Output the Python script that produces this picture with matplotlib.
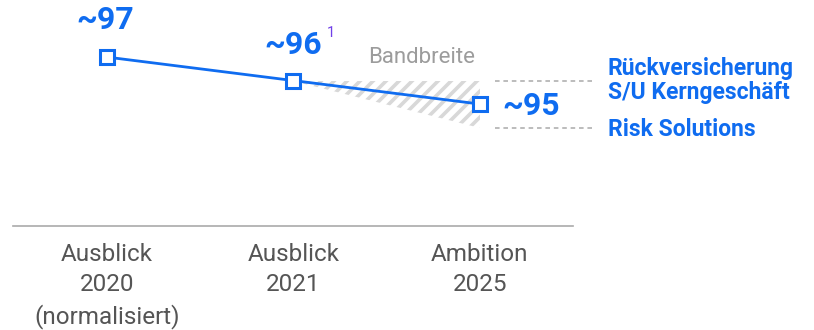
import matplotlib
matplotlib.use("Agg")
import matplotlib.pyplot as plt
from matplotlib.patches import Polygon
from matplotlib.lines import Line2D
from matplotlib.transforms import IdentityTransform
import numpy as np

plt.rcParams['font.family'] = ['Roboto', 'DejaVu Sans']

# ---- data ----
categories = ["Ausblick\n2020\n(normalisiert)", "Ausblick\n2021", "Ambition\n2025"]
values = [97, 96, 95]
value_labels = ["~97", "~96", "~95"]
band_high = 96
band_low = 94
band_label = "Bandbreite"
upper_label = "Rückversicherung\nS/U Kerngeschäft"
lower_label = "Risk Solutions"

BLUE = "#0F6CF0"
PURPLE = "#7040E8"
GRAY_TXT = "#555555"
BAND_TXT = "#9C9C9C"
HATCH = "#D8D8D8"

DPI = 100
fig = plt.figure(figsize=(8.14, 3.30), dpi=DPI)
ax = fig.add_axes([13 / 814, (330 - 226) / 330, 560 / 814, 226 / 330])
ax.set_xlim(-0.504, 2.499)
ax.set_ylim(89.81, 99.43)

x = np.arange(len(values))

# hatched band (triangle from 2021 value to range at 2025)
band_poly = Polygon([[x[1], values[1]], [x[2], band_high], [x[2], band_low]],
                    closed=True, facecolor="none", edgecolor="none", zorder=1)
ax.add_patch(band_poly)
fig.canvas.draw()
verts = ax.transData.transform(band_poly.get_xy())
xmin, ymin = verts.min(axis=0)
xmax, ymax = verts.max(axis=0)
spacing = 13.0
h = ymax - ymin
start = xmin - h - spacing
k = 0
while start + k * spacing < xmax + spacing:
    x0 = start + k * spacing
    ln = Line2D([x0, x0 + h + 4], [ymin - 2, ymax + 2], transform=IdentityTransform(),
                color=HATCH, linewidth=2.6, solid_capstyle="butt", zorder=1)
    ln.set_clip_path(band_poly)
    ax.add_artist(ln)
    k += 1

# dashed range lines
for yv in (band_high, band_low):
    ax.plot([2.08, 2.60], [yv, yv], linestyle=(0, (3, 2.5)), color="#AAAAAA",
            linewidth=1.1, clip_on=False, zorder=2)

# main line
ax.plot(x, values, color=BLUE, linewidth=2.0, marker="s", markersize=10,
        markerfacecolor="white", markeredgecolor=BLUE, markeredgewidth=2.2, zorder=5)

# value labels
ax.annotate(value_labels[0], (x[0], values[0]), xytext=(-1, 26.5), textcoords="offset points",
            ha="center", va="center", fontsize=23, fontweight="bold", color=BLUE)
ax.annotate(value_labels[1], (x[1], values[1]), xytext=(0, 25.5), textcoords="offset points",
            ha="center", va="center", fontsize=23, fontweight="bold", color=BLUE)
ax.annotate("1", (x[1], values[1]), xytext=(27, 34), textcoords="offset points",
            ha="center", va="center", fontsize=10.5, color=PURPLE)
ax.annotate(value_labels[2], (x[2], values[2]), xytext=(16.5, -1.5), textcoords="offset points",
            ha="left", va="center", fontsize=23, fontweight="bold", color=BLUE)

# band label
ax.text(1.689, values[0], band_label, ha="center", va="center", fontsize=16, color=BAND_TXT)

# right-side labels
ax.text(2.686, band_high, upper_label, ha="left", va="center", fontsize=16.5,
        fontweight="bold", color=BLUE, linespacing=1.08, clip_on=False)
ax.text(2.686, band_low - 0.08, lower_label, ha="left", va="center", fontsize=16.5,
        fontweight="bold", color=BLUE, clip_on=False)

# axes styling
for s in ("top", "right", "left"):
    ax.spines[s].set_visible(False)
ax.spines["bottom"].set_color("#AAAAAA")
ax.spines["bottom"].set_linewidth(1.2)
ax.set_yticks([])
ax.set_xticks(x)
ax.set_xticklabels(categories, fontsize=17.5, color=GRAY_TXT, linespacing=1.4)
ax.tick_params(axis="x", length=0, pad=12)
ax.patch.set_alpha(0)

fig.savefig("out.png", dpi=DPI)
